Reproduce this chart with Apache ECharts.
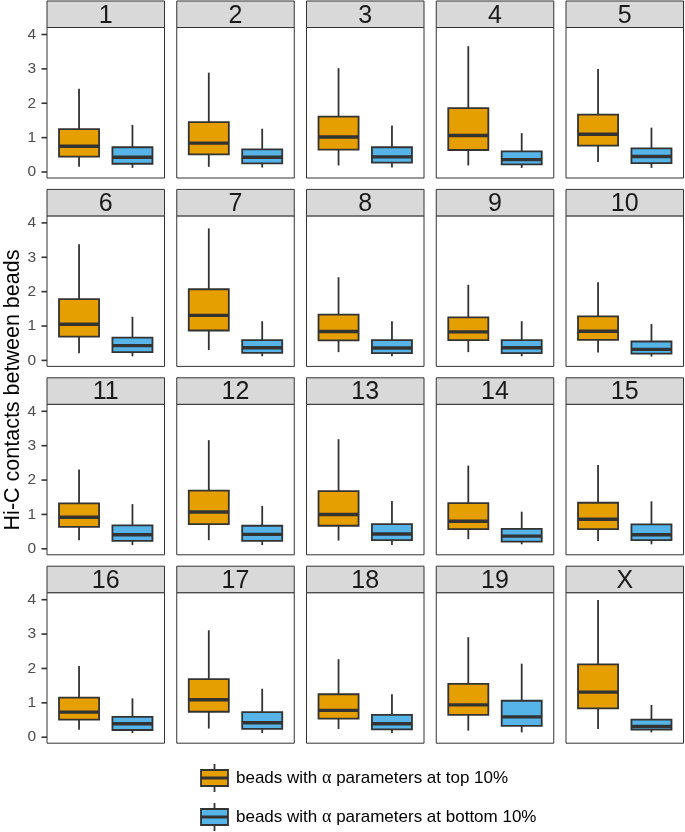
<!DOCTYPE html>
<html>
<head>
<meta charset="utf-8">
<script src="https://cdn.jsdelivr.net/npm/echarts@6/dist/echarts.min.js"></script>
<style>
html,body{margin:0;padding:0;background:#fff;}
#chart{width:685px;height:832px;}
</style>
</head>
<body>
<div id="chart"></div>
<script>
// ---------- data ----------
const facets = ['1','2','3','4','5','6','7','8','9','10','11','12','13','14','15','16','17','18','19','X'];
// [lower whisker, Q1, median, Q3, upper whisker] per facet
const topBox = [
  [0.15,0.45,0.75,1.25,2.42],
  [0.15,0.51,0.84,1.45,2.89],
  [0.19,0.65,1.02,1.61,3.02],
  [0.19,0.64,1.06,1.86,3.66],
  [0.29,0.77,1.10,1.67,3.00],
  [0.21,0.69,1.05,1.78,3.38],
  [0.30,0.87,1.31,2.07,3.84],
  [0.24,0.58,0.84,1.33,2.42],
  [0.24,0.59,0.83,1.25,2.20],
  [0.23,0.60,0.85,1.28,2.27],
  [0.25,0.64,0.92,1.32,2.31],
  [0.25,0.72,1.07,1.69,3.16],
  [0.24,0.67,1.00,1.68,3.19],
  [0.28,0.57,0.80,1.33,2.42],
  [0.23,0.57,0.86,1.34,2.44],
  [0.22,0.51,0.73,1.15,2.07],
  [0.25,0.74,1.09,1.69,3.11],
  [0.24,0.54,0.78,1.25,2.27],
  [0.19,0.65,0.94,1.55,2.91],
  [0.24,0.84,1.31,2.12,3.99]
];
const bottomBox = [
  [0.12,0.24,0.43,0.72,1.37],
  [0.13,0.25,0.43,0.66,1.26],
  [0.13,0.27,0.44,0.72,1.35],
  [0.12,0.22,0.36,0.60,1.13],
  [0.12,0.26,0.45,0.69,1.29],
  [0.12,0.24,0.43,0.66,1.27],
  [0.12,0.22,0.37,0.59,1.14],
  [0.12,0.21,0.36,0.59,1.14],
  [0.12,0.21,0.37,0.59,1.14],
  [0.11,0.20,0.32,0.55,1.06],
  [0.11,0.23,0.41,0.68,1.30],
  [0.11,0.23,0.42,0.67,1.25],
  [0.11,0.25,0.43,0.72,1.39],
  [0.13,0.21,0.37,0.58,1.08],
  [0.13,0.25,0.41,0.71,1.38],
  [0.12,0.21,0.39,0.59,1.13],
  [0.12,0.24,0.42,0.73,1.41],
  [0.12,0.23,0.39,0.65,1.25],
  [0.14,0.33,0.59,1.06,2.14],
  [0.14,0.22,0.31,0.51,0.94]
];
const groupNames = ['top 10%', 'bottom 10%'];
const groupPos = [1, 2];
const yTicks = [0, 1, 2, 3, 4];
const yMin = 0, yMax = 4, yStep = 1;
const yTitle = 'Hi-C contacts between beads';

// ---------- style / layout ----------
const FONT = '"Liberation Sans", Arial, Helvetica, sans-serif';
const colors = ['#E69F00', '#56B4E9'];
const lineCol = '#333333';
const nCols = 5;
const colLeft0 = 47, colStep = 129.75, panelW = 117.5;
const rowTop0 = 1, rowStep = 188.4, stripH = 26.5, panelH = 150.5;
const padTop = 7, padBottom = 6;   // panel space beyond the 0..4 range
const xMin = 0.4, xMax = 2.6;
const tickLen = 5.5;                // px, extra room at left of grid for ticks
const pxPerUnit = panelW / (xMax - xMin);
const xMinExt = xMin - tickLen / pxPerUnit;

function renderBox(color) {
  return function (params, api) {
    const x = api.value(0);
    const lo = api.coord([x, api.value(1)]);
    const q1 = api.coord([x, api.value(2)]);
    const md = api.coord([x, api.value(3)]);
    const q3 = api.coord([x, api.value(4)]);
    const hi = api.coord([x, api.value(5)]);
    const w = api.size([0.75, 0])[0];
    const cx = lo[0];
    return {
      type: 'group',
      children: [
        {type:'line', shape:{x1:cx,y1:hi[1],x2:cx,y2:q3[1]}, style:{stroke:lineCol,lineWidth:1.8}},
        {type:'line', shape:{x1:cx,y1:q1[1],x2:cx,y2:lo[1]}, style:{stroke:lineCol,lineWidth:1.8}},
        {type:'rect', shape:{x:cx-w/2,y:q3[1],width:w,height:q1[1]-q3[1]}, style:{fill:color,stroke:lineCol,lineWidth:1.8}},
        {type:'line', shape:{x1:cx-w/2,y1:md[1],x2:cx+w/2,y2:md[1]}, style:{stroke:lineCol,lineWidth:3.4}}
      ]
    };
  };
}

// tick marks on the left axis, placed through the axis scales
function renderTick(params, api) {
  const a = api.coord([xMinExt, api.value(0)]);
  const b = api.coord([xMin, api.value(0)]);
  return {type: 'line', shape: {x1: a[0], y1: a[1], x2: b[0], y2: b[1]},
    style: {stroke: lineCol, lineWidth: 1.6}};
}

const grids = [], xAxes = [], yAxes = [], series = [], graphics = [];
facets.forEach(function (name, i) {
  const c = i % nCols, r = Math.floor(i / nCols);
  const left = colLeft0 + c * colStep;
  const rowTop = rowTop0 + r * rowStep;
  const panelTop = rowTop + stripH;
  // panel frame
  graphics.push({type: 'rect', shape: {x: left, y: panelTop, width: panelW, height: panelH},
    style: {fill: 'rgba(0,0,0,0)', stroke: lineCol, lineWidth: 1}, z: 0});
  // grid extended leftwards by tickLen so ticks lie inside it
  grids.push({left: left - tickLen, top: panelTop + padTop, width: panelW + tickLen,
    height: panelH - padTop - padBottom, show: false, containLabel: false});
  xAxes.push({type: 'value', gridIndex: i, min: xMinExt, max: xMax, show: false});
  yAxes.push({
    type: 'value', gridIndex: i, min: yMin, max: yMax, interval: yStep,
    show: c === 0,
    axisLine: {show: false},
    splitLine: {show: false},
    axisTick: {show: false},
    axisLabel: {show: true, margin: 5.5, color: '#4d4d4d', fontSize: 15.5, fontFamily: FONT}
  });
  [topBox, bottomBox].forEach(function (arr, g) {
    series.push({
      type: 'custom', xAxisIndex: i, yAxisIndex: i,
      renderItem: renderBox(colors[g]),
      encode: {x: 0, y: [1, 2, 3, 4, 5]},
      data: [[groupPos[g]].concat(arr[i])],
      clip: false, silent: true, animation: false, z: 5
    });
  });
  if (c === 0) {
    series.push({
      type: 'custom', xAxisIndex: i, yAxisIndex: i,
      renderItem: renderTick,
      encode: {y: 0},
      data: yTicks.map(function (v) { return [v]; }),
      clip: false, silent: true, animation: false, z: 6
    });
  }
  // strip
  graphics.push({type: 'rect', shape: {x: left, y: rowTop, width: panelW, height: stripH},
    style: {fill: '#d9d9d9', stroke: lineCol, lineWidth: 1}, z: 100});
  graphics.push({type: 'text', x: left + panelW / 2, y: rowTop + stripH / 2 + 1.5,
    style: {text: name, fill: '#1a1a1a', font: '25px ' + FONT, textAlign: 'center', textVerticalAlign: 'middle'}, z: 101});
});

// y-axis title
graphics.push({type: 'text', x: 13, y: 390, rotation: Math.PI / 2,
  style: {text: yTitle, fill: '#000', font: '21.5px ' + FONT, textAlign: 'center', textVerticalAlign: 'middle'}, z: 101});

// legend
const legendY = [778, 817];
groupNames.forEach(function (gn, g) {
  const cy = legendY[g];
  const x0 = 201, x1 = 228, cx = (x0 + x1) / 2;
  graphics.push({type: 'line', shape: {x1: cx, y1: cy - 14, x2: cx, y2: cy + 14}, style: {stroke: lineCol, lineWidth: 1.8}, z: 100});
  graphics.push({type: 'rect', shape: {x: x0, y: cy - 8, width: x1 - x0, height: 16}, style: {fill: colors[g], stroke: lineCol, lineWidth: 1.8}, z: 101});
  graphics.push({type: 'line', shape: {x1: x0, y1: cy, x2: x1, y2: cy}, style: {stroke: lineCol, lineWidth: 3}, z: 102});
  graphics.push({type: 'text', x: 236, y: cy,
    style: {
      text: '{a|beads with }{g|\u03B1}{a| parameters at ' + gn + '}',
      textVerticalAlign: 'middle', textAlign: 'left',
      rich: {
        a: {fontFamily: FONT, fontSize: 17, fill: '#000', color: '#000'},
        g: {fontFamily: '"Liberation Serif", "DejaVu Serif", serif', fontSize: 18, fill: '#000', color: '#000'}
      }
    }, z: 101});
});

const chart = echarts.init(document.getElementById('chart'), null, {renderer: 'canvas'});
chart.setOption({
  animation: false,
  backgroundColor: '#fff',
  grid: grids,
  xAxis: xAxes,
  yAxis: yAxes,
  series: series,
  graphic: {elements: graphics}
});
</script>
</body>
</html>
